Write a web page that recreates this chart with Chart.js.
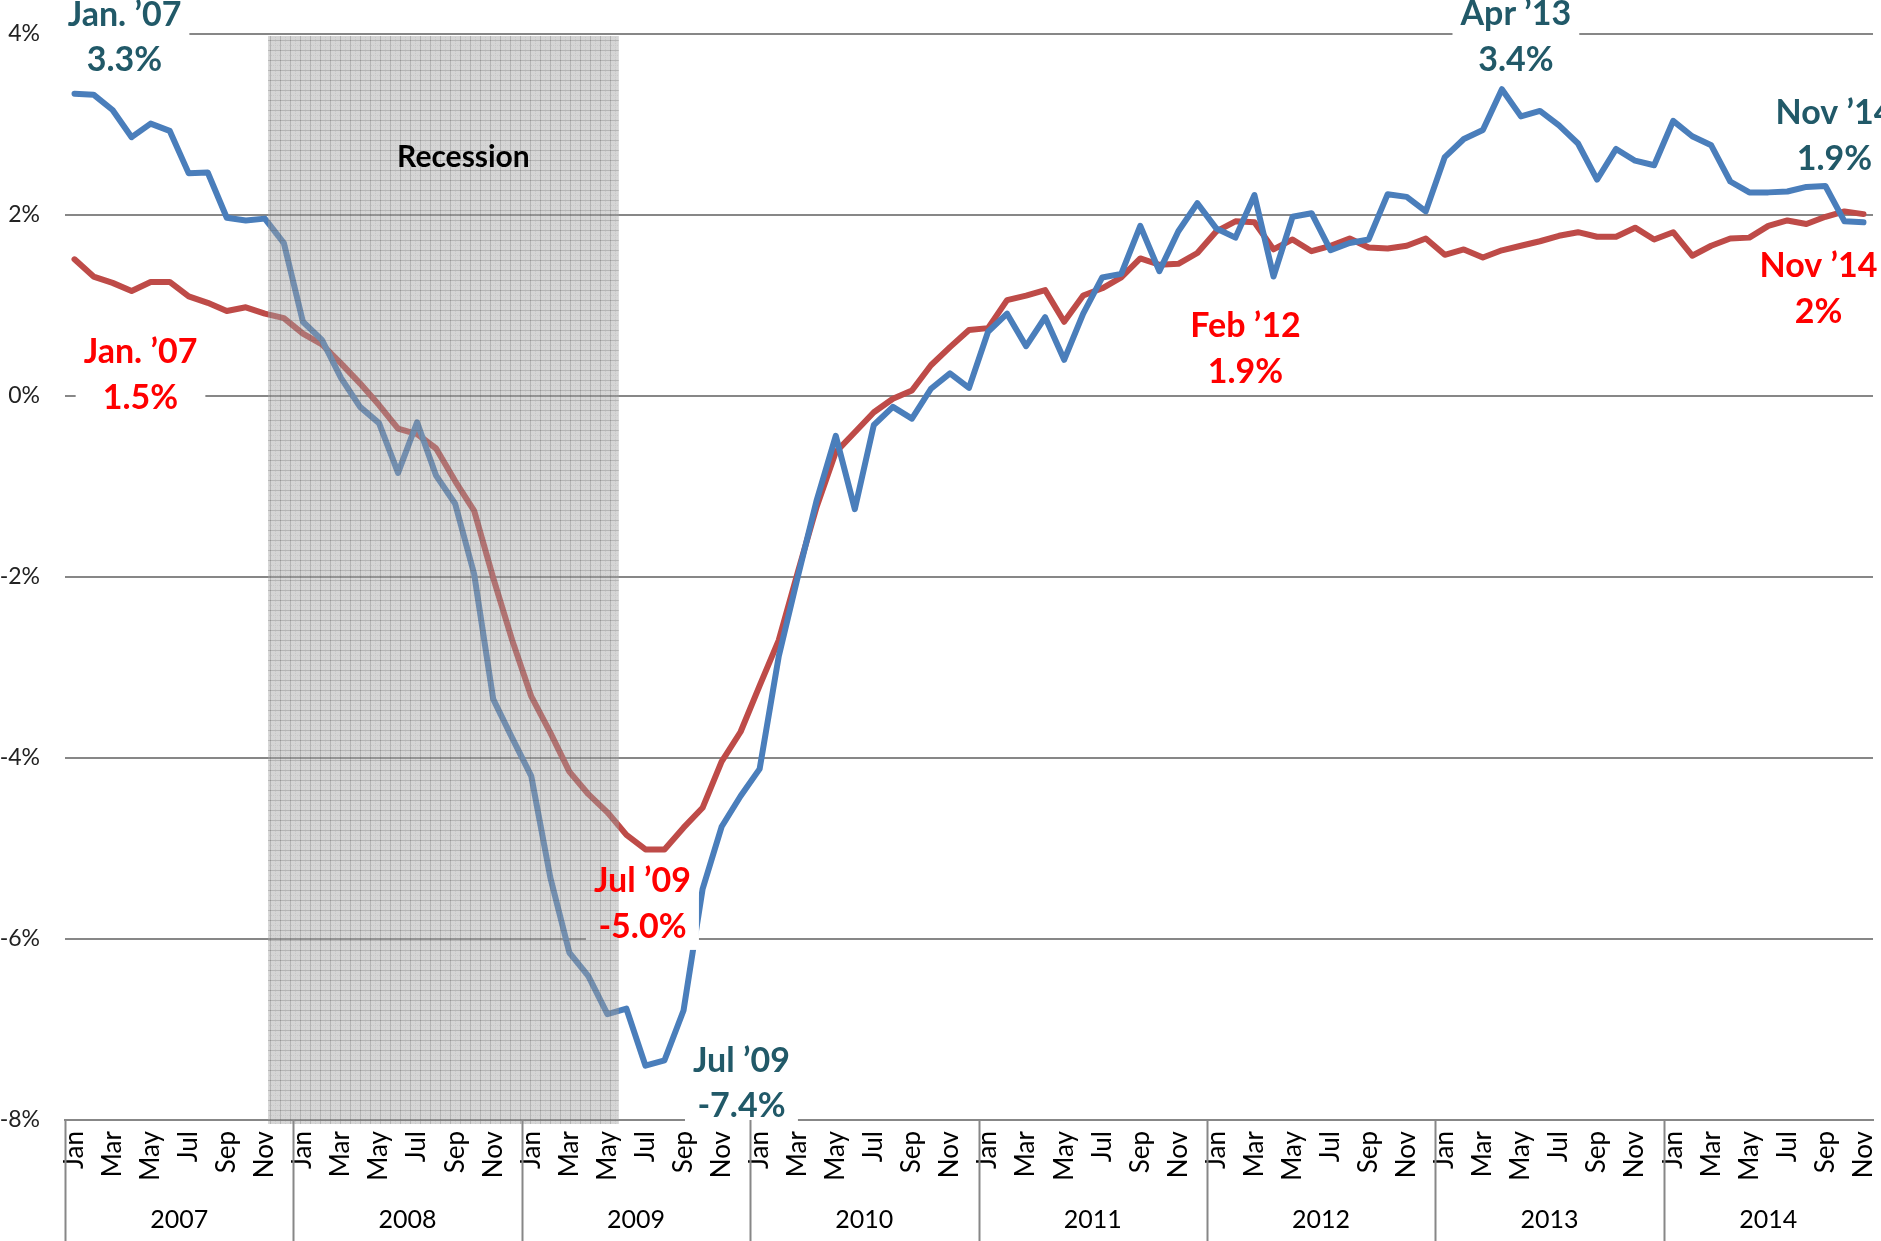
<!DOCTYPE html>
<html>
<head>
<meta charset="utf-8">
<script src="https://cdn.jsdelivr.net/npm/chart.js@4.4.0/dist/chart.umd.min.js"></script>
<style>
    html, body { margin: 0; padding: 0; background: #fff; }
    #contenedor { width: 1881px; height: 1241px; }
</style>
</head>
<body>
<div id="contenedor"><canvas id="graficoLinea"></canvas></div>
<script>
// Datos (variación interanual, %), ene 2007 - nov 2014
const anios = ['2007', '2008', '2009', '2010', '2011', '2012', '2013', '2014'];
const meses = ['Jan', 'Feb', 'Mar', 'Apr', 'May', 'Jun', 'Jul', 'Aug', 'Sep', 'Oct', 'Nov', 'Dec'];
const ticksY = [-8, -6, -4, -2, 0, 2, 4];

const serieAzul = [
    3.34, 3.33, 3.16, 2.86, 3.01, 2.93, 2.46, 2.47, 1.97, 1.94, 1.96, 1.69,
    0.82, 0.62, 0.20, -0.12, -0.30, -0.85, -0.29, -0.88, -1.19, -1.97, -3.35, -3.78,
    -4.20, -5.32, -6.15, -6.41, -6.83, -6.77, -7.40, -7.34, -6.79, -5.45, -4.76, -4.42,
    -4.12, -2.88, -2.00, -1.15, -0.44, -1.25, -0.32, -0.12, -0.25, 0.08, 0.25, 0.09,
    0.71, 0.91, 0.55, 0.87, 0.40, 0.91, 1.31, 1.35, 1.88, 1.38, 1.82, 2.13,
    1.85, 1.75, 2.22, 1.32, 1.98, 2.02, 1.61, 1.69, 1.73, 2.23, 2.20, 2.04,
    2.64, 2.84, 2.94, 3.39, 3.09, 3.15, 2.99, 2.79, 2.39, 2.73, 2.60, 2.55,
    3.04, 2.87, 2.77, 2.37, 2.25, 2.25, 2.26, 2.31, 2.32, 1.93, 1.92
];
const serieRoja = [
    1.51, 1.32, 1.25, 1.16, 1.26, 1.26, 1.10, 1.03, 0.94, 0.98, 0.91, 0.86,
    0.69, 0.57, 0.36, 0.14, -0.10, -0.36, -0.42, -0.58, -0.94, -1.27, -2.01, -2.70,
    -3.32, -3.72, -4.15, -4.40, -4.60, -4.85, -5.01, -5.01, -4.77, -4.55, -4.04, -3.71,
    -3.20, -2.70, -1.95, -1.22, -0.62, -0.40, -0.18, -0.03, 0.06, 0.34, 0.54, 0.73,
    0.75, 1.06, 1.11, 1.17, 0.82, 1.11, 1.19, 1.31, 1.52, 1.45, 1.46, 1.58,
    1.82, 1.93, 1.92, 1.62, 1.73, 1.60, 1.66, 1.74, 1.64, 1.63, 1.66, 1.74,
    1.56, 1.62, 1.53, 1.61, 1.66, 1.71, 1.77, 1.81, 1.76, 1.76, 1.86, 1.73,
    1.81, 1.55, 1.66, 1.74, 1.75, 1.88, 1.94, 1.90, 1.98, 2.04, 2.01
];

// Periodo de recesión (en posiciones del eje de categorías)
const recesion = [10.17, 28.6];

// Etiquetas de los puntos destacados
const llamadas = [
    { serie: 'azul', idx: 0,  lineas: ['Jan. \u201907', '3.3%'],  dx: 50,  dy: -68 },
    { serie: 'roja', idx: 0,  lineas: ['Jan. \u201907', '1.5%'],  dx: 66,  dy: 104 },
    { serie: 'roja', idx: 30, lineas: ['Jul \u201909', '-5.0%'],  dx: -3,  dy: 43 },
    { serie: 'azul', idx: 30, lineas: ['Jul \u201909', '-7.4%'],  dx: 96,  dy: 6 },
    { serie: 'roja', idx: 61, lineas: ['Feb \u201912', '1.9%'],   dx: 10,  dy: 116 },
    { serie: 'azul', idx: 75, lineas: ['Apr \u201913', '3.4%'],   dx: 14,  dy: -64 },
    { serie: 'azul', idx: 94, lineas: ['Nov \u201914', '1.9%'],   dx: -29, dy: -98 },
    { serie: 'roja', idx: 94, lineas: ['Nov \u201914', '2%'],     dx: -45, dy: 63 }
];

// Categorías: un mes por punto
const categorias = [];
anios.forEach(a => meses.forEach(m => categorias.push(m + ' ' + a)));
categorias.length = serieAzul.length;

const colorAzul = '#4A7EBB';
const colorRoja = '#BE4B48';
const colorTextoAzul = '#215968';
const colorTextoRoja = '#FF0000';
const colorRejilla = '#878787';

function crearPatron(ctx) {
    const c = document.createElement('canvas');
    c.width = 10; c.height = 10;
    const g = c.getContext('2d');
    g.fillStyle = 'rgba(163,163,163,0.46)';
    g.fillRect(0, 0, 10, 10);
    g.clearRect(0, 0, 10, 1); g.clearRect(0, 0, 1, 10);
    g.fillStyle = 'rgba(128,128,128,0.58)';
    g.fillRect(0, 0, 10, 1); g.fillRect(0, 0, 1, 10);
    g.fillStyle = 'rgba(150,150,150,0.52)';
    for (let i = 1; i < 10; i += 2) {
        g.clearRect(5, i, 1, 1); g.fillRect(5, i, 1, 1);
        g.clearRect(i, 5, 1, 1); g.fillRect(i, 5, 1, 1);
    }
    return ctx.createPattern(c, 'repeat');
}

const pluginAnotaciones = {
    id: 'anotaciones',
    afterDatasetsDraw(chart) {
        const { ctx, chartArea, scales: { x, y } } = chart;
        ctx.save();
        ctx.font = 'bold 34px Lato';
        const interlinea = 45.5;

        // Posición de cada etiqueta
        const cajas = llamadas.map(l => {
            const datos = l.serie === 'azul' ? serieAzul : serieRoja;
            const px = x.getPixelForValue(l.idx);
            const py = y.getPixelForValue(datos[l.idx]);
            const ancho = Math.max(...l.lineas.map(t => ctx.measureText(t).width)) + 16;
            const cx = px + l.dx;
            const base = py + l.dy;
            return { l, cx, base, ancho, top: base - 33, alto: interlinea + 45 };
        });

        // Fondos blancos de las etiquetas
        ctx.fillStyle = '#ffffff';
        cajas.forEach(c => ctx.fillRect(c.cx - c.ancho / 2, c.top, c.ancho, c.alto));

        // Sombreado de la recesión
        const x0 = x.getPixelForValue(recesion[0]);
        const x1 = x.getPixelForValue(recesion[1]);
        ctx.fillStyle = crearPatron(ctx);
        ctx.fillRect(x0, chartArea.top + 2, x1 - x0, chartArea.bottom - chartArea.top + 2);

        ctx.fillStyle = '#000';
        ctx.font = 'bold 30px Lato';
        ctx.textAlign = 'center';
        ctx.textBaseline = 'middle';
        ctx.fillText('Recession', (x0 + x1) / 2 + 20, chartArea.top + 123);

        // Textos de las etiquetas
        ctx.font = 'bold 34px Lato';
        ctx.textBaseline = 'alphabetic';
        cajas.forEach(c => {
            ctx.fillStyle = c.l.serie === 'azul' ? colorTextoAzul : colorTextoRoja;
            c.l.lineas.forEach((t, i) => ctx.fillText(t, c.cx, c.base + i * interlinea));
        });
        ctx.restore();
    },
    afterDraw(chart) {
        // Separadores y rótulos de años bajo el eje
        const { ctx, chartArea, scales: { x } } = chart;
        ctx.save();
        ctx.strokeStyle = colorRejilla;
        ctx.lineWidth = 2;
        ctx.fillStyle = '#000';
        ctx.font = '25px Lato';
        ctx.textAlign = 'center';
        ctx.textBaseline = 'middle';
        anios.forEach((a, k) => {
            const ini = k * 12;
            const fin = Math.min(ini + 12, categorias.length);
            const xi = x.getPixelForValue(ini - 0.5);
            const xf = x.getPixelForValue(fin - 0.5);
            ctx.beginPath();
            ctx.moveTo(Math.round(xi) + 0.5, chartArea.bottom);
            ctx.lineTo(Math.round(xi) + 0.5, chart.height);
            ctx.stroke();
            ctx.fillText(a, (xi + xf) / 2, 1220);
        });
        ctx.restore();
    }
};

function generarGraficoLinea() {
    const ctx = document.getElementById('graficoLinea').getContext('2d');
    new Chart(ctx, {
        type: 'line',
        data: {
            labels: categorias,
            datasets: [
                {
                    label: 'Serie azul',
                    data: serieAzul,
                    borderColor: colorAzul,
                    borderWidth: 6,
                    pointRadius: 0,
                    tension: 0,
                    borderJoinStyle: 'round',
                    borderCapStyle: 'round'
                },
                {
                    label: 'Serie roja',
                    data: serieRoja,
                    borderColor: colorRoja,
                    borderWidth: 6,
                    pointRadius: 0,
                    tension: 0,
                    borderJoinStyle: 'round',
                    borderCapStyle: 'round'
                }
            ]
        },
        options: {
            responsive: true,
            maintainAspectRatio: false,
            animation: false,
            devicePixelRatio: 1,
            layout: { padding: { top: 34, right: 8, left: 0, bottom: 0 } },
            plugins: {
                legend: { display: false },
                tooltip: { enabled: false }
            },
            scales: {
                x: {
                    offset: true,
                    grid: { display: false, drawTicks: false },
                    border: { display: true, color: colorRejilla, width: 2 },
                    ticks: {
                        autoSkip: false,
                        minRotation: 90,
                        maxRotation: 90,
                        padding: 11,
                        color: '#000',
                        font: { family: 'Lato', size: 26 },
                        callback: function(valor, i) {
                            return i % 2 === 0 ? meses[i % 12] : '';
                        }
                    },
                    afterFit: function(escala) {
                        escala.height = 121;
                        escala.paddingLeft = 0;
                        escala.paddingRight = 0;
                    }
                },
                y: {
                    min: ticksY[0],
                    max: ticksY[ticksY.length - 1],
                    afterBuildTicks: function(escala) {
                        escala.ticks = ticksY.map(v => ({ value: v }));
                    },
                    grid: { color: colorRejilla, lineWidth: 2, drawTicks: false },
                    border: { display: false },
                    ticks: {
                        padding: 25,
                        color: '#222',
                        font: { family: 'Lato', size: 23 },
                        callback: function(valor) {
                            return valor + '%';
                        }
                    },
                    afterFit: function(escala) {
                        escala.width = 65;
                        escala.paddingTop = 0;
                        escala.paddingBottom = 0;
                    }
                }
            }
        },
        plugins: [pluginAnotaciones]
    });
}

document.addEventListener('DOMContentLoaded', () => {
    generarGraficoLinea();
});
</script>
</body>
</html>
